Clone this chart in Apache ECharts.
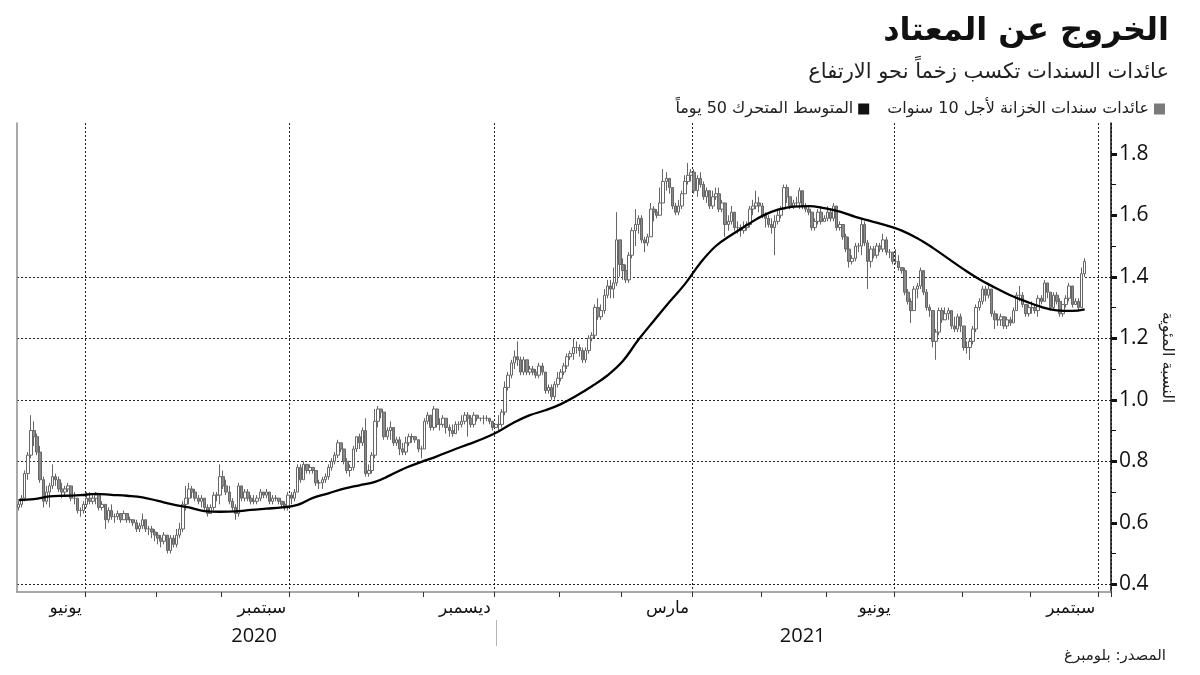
<!DOCTYPE html>
<html><head><meta charset="utf-8">
<script src="https://cdn.jsdelivr.net/npm/echarts@6/dist/echarts.min.js"></script>
<style>html,body{margin:0;padding:0;background:#fff}#c{width:1200px;height:675px}</style>
</head><body><div id="c"></div>
<script>
// ---------- texts ----------
const titleText = 'الخروج عن المعتاد';
const subtitleText = 'عائدات السندات تكسب زخماً نحو الارتفاع';
const seriesNames = ['عائدات سندات الخزانة لأجل 10 سنوات', 'المتوسط المتحرك 50 يوماً'];
const yAxisName = 'النسبة المئوية';
const sourceText = 'المصدر: بلومبرغ';
const monthNames = ['يناير','فبراير','مارس','أبريل','مايو','يونيو','يوليو','أغسطس','سبتمبر','أكتوبر','نوفمبر','ديسمبر'];

// ---------- axis ticks ----------
const yTickLabels = [0.4, 0.6, 0.8, 1.0, 1.2, 1.4, 1.6, 1.8];
const yMinorTicks = [0.5, 0.7, 0.9, 1.1, 1.3, 1.5, 1.7];
const yGridValues = [0.4, 0.8, 1.0, 1.2, 1.4];
const yMin = 0.375, yMax = 1.9;

// ---------- categories: trading weekdays ----------
const firstDay = '2020-06-01';
const lastDay = '2021-10-06';

// ---------- daily 10y yield [open, close, low, high] ----------
const yields2020 = [
// Jun
[.65,.66,.64,.67],[.66,.68,.65,.69],[.68,.76,.67,.77],[.76,.82,.74,.83],[.82,.90,.81,.95],
[.90,.88,.85,.93],[.88,.83,.82,.89],[.83,.74,.73,.85],[.74,.67,.65,.75],[.67,.70,.66,.72],
[.70,.72,.65,.73],[.72,.75,.71,.79],[.75,.74,.72,.76],[.74,.71,.70,.75],[.71,.70,.68,.73],
[.70,.71,.69,.72],[.71,.72,.70,.73],[.72,.68,.67,.72],[.68,.68,.66,.70],[.68,.64,.63,.68],
[.64,.64,.62,.65],[.64,.66,.63,.67],
// Jul
[.66,.68,.65,.70],[.68,.67,.66,.70],[.67,.68,.66,.69],[.68,.69,.66,.70],[.69,.65,.64,.69],
[.65,.66,.64,.67],[.66,.61,.58,.66],[.61,.64,.60,.65],[.64,.62,.61,.66],[.62,.62,.60,.63],
[.62,.63,.61,.64],[.63,.61,.60,.63],[.61,.63,.61,.64],[.63,.61,.60,.63],[.61,.61,.60,.62],
[.61,.60,.59,.61],[.60,.58,.57,.61],[.58,.59,.57,.60],[.59,.61,.58,.63],[.61,.58,.57,.61],
[.58,.58,.56,.59],[.58,.57,.55,.59],[.57,.56,.54,.58],[.56,.55,.53,.57],[.55,.54,.52,.56],
// Aug
[.54,.56,.53,.57],[.56,.51,.50,.56],[.51,.55,.50,.56],[.55,.53,.52,.56],[.53,.56,.52,.58],
[.56,.58,.55,.60],[.58,.66,.57,.67],[.66,.68,.64,.72],[.68,.71,.66,.73],[.71,.70,.68,.72],
[.70,.68,.67,.71],[.68,.67,.66,.69],[.67,.68,.65,.69],[.68,.65,.64,.68],[.65,.63,.62,.66],
[.63,.65,.63,.66],[.65,.69,.64,.70],[.69,.69,.67,.70],[.69,.75,.66,.79],[.75,.72,.71,.77],
[.72,.70,.69,.74],
// Sep
[.70,.67,.66,.72],[.67,.65,.64,.68],[.65,.63,.61,.66],[.63,.72,.62,.73],
[.72,.68,.67,.72],[.68,.70,.67,.71],[.70,.68,.67,.71],[.68,.67,.66,.69],[.67,.67,.66,.69],
[.67,.68,.66,.69],[.68,.70,.67,.71],[.70,.69,.68,.70],[.69,.70,.68,.71],[.70,.67,.66,.70],
[.67,.68,.66,.69],[.68,.68,.67,.69],[.68,.67,.66,.68],[.67,.66,.65,.67],
[.66,.65,.64,.67],[.65,.69,.64,.70],
// Oct
[.69,.68,.66,.70],[.68,.70,.67,.71],[.70,.78,.70,.79],[.78,.74,.73,.79],[.74,.79,.74,.80],
[.79,.77,.76,.79],[.77,.78,.76,.79],[.78,.77,.76,.78],[.77,.73,.72,.77],[.73,.73,.71,.74],
[.73,.74,.71,.75],[.74,.75,.73,.76],[.75,.78,.74,.79],[.78,.80,.77,.81],[.80,.82,.79,.83],
[.82,.86,.81,.87],[.86,.84,.83,.86],[.84,.80,.79,.84],[.80,.77,.76,.81],[.77,.78,.75,.79],
[.78,.84,.77,.85],[.84,.88,.83,.88],
// Nov
[.88,.86,.84,.89],[.86,.90,.85,.91],[.90,.76,.75,.94],[.76,.77,.75,.79],[.77,.82,.76,.83],
[.82,.93,.81,.97],[.93,.97,.91,.98],[.97,.96,.94,.97],[.96,.88,.87,.96],[.88,.90,.87,.91],
[.90,.91,.87,.93],[.91,.86,.85,.91],[.86,.87,.85,.88],[.87,.84,.82,.88],[.84,.83,.82,.86],
[.83,.86,.82,.88],[.86,.88,.85,.89],[.88,.88,.86,.89],[.88,.87,.86,.88],[.87,.84,.83,.87],
[.84,.84,.81,.85],
// Dec
[.84,.93,.84,.94],[.93,.95,.92,.96],[.95,.91,.90,.95],[.91,.97,.90,.98],[.97,.92,.91,.97],
[.92,.92,.90,.94],[.92,.94,.91,.95],[.94,.91,.89,.94],[.91,.90,.88,.92],[.90,.89,.88,.92],
[.89,.92,.89,.93],[.92,.92,.90,.93],[.92,.93,.91,.95],[.93,.95,.92,.96],[.95,.94,.88,.96],
[.94,.92,.91,.95],[.92,.95,.91,.96],[.95,.94,.93,.95],[.94,.94,.93,.94],[.94,.94,.92,.95],
[.94,.94,.93,.95],[.94,.93,.92,.94],[.93,.91,.90,.93]
];
const yields2021 = [
// Jan
[.91,.92,.91,.92],[.92,.92,.90,.95],[.92,.96,.91,.97],[.96,1.04,.95,1.06],[1.04,1.08,1.03,1.09],
[1.08,1.12,1.07,1.13],[1.12,1.14,1.10,1.16],[1.14,1.13,1.11,1.19],[1.13,1.09,1.08,1.14],[1.09,1.13,1.08,1.14],
[1.13,1.09,1.08,1.13],[1.09,1.10,1.08,1.11],[1.10,1.09,1.08,1.11],[1.09,1.08,1.07,1.10],[1.08,1.11,1.07,1.12],
[1.11,1.09,1.08,1.12],[1.09,1.03,1.02,1.09],[1.03,1.04,1.02,1.05],[1.04,1.01,1.00,1.05],[1.01,1.05,1.00,1.06],
[1.05,1.07,1.04,1.09],
// Feb
[1.07,1.09,1.06,1.10],[1.09,1.11,1.08,1.12],[1.11,1.14,1.10,1.15],[1.14,1.15,1.13,1.16],[1.15,1.17,1.13,1.20],
[1.17,1.17,1.15,1.19],[1.17,1.16,1.14,1.18],[1.16,1.13,1.12,1.17],[1.13,1.16,1.12,1.17],[1.16,1.20,1.15,1.21],
[1.20,1.21,1.19,1.22],[1.21,1.30,1.20,1.31],[1.30,1.27,1.26,1.33],[1.27,1.29,1.26,1.31],[1.29,1.34,1.28,1.36],
[1.34,1.37,1.33,1.39],[1.37,1.36,1.33,1.39],[1.36,1.38,1.33,1.43],[1.38,1.52,1.37,1.61],[1.52,1.44,1.40,1.52],
// Mar
[1.44,1.42,1.39,1.46],[1.42,1.39,1.38,1.44],[1.39,1.47,1.38,1.48],[1.47,1.55,1.46,1.56],[1.55,1.57,1.50,1.62],
[1.57,1.59,1.54,1.60],[1.59,1.52,1.51,1.60],[1.52,1.51,1.48,1.53],[1.51,1.53,1.50,1.54],[1.53,1.62,1.53,1.64],
[1.62,1.61,1.58,1.63],[1.61,1.60,1.59,1.62],[1.60,1.64,1.60,1.69],[1.64,1.71,1.64,1.75],[1.71,1.72,1.68,1.74],
[1.72,1.69,1.67,1.72],[1.69,1.63,1.62,1.69],[1.63,1.61,1.60,1.64],[1.61,1.63,1.60,1.65],[1.63,1.67,1.62,1.68],
[1.67,1.71,1.67,1.73],[1.71,1.73,1.70,1.77],[1.73,1.74,1.71,1.75],
// Apr
[1.74,1.68,1.67,1.75],[1.68,1.72,1.66,1.73],[1.72,1.70,1.69,1.74],[1.70,1.66,1.65,1.71],[1.66,1.68,1.64,1.69],
[1.68,1.63,1.62,1.68],[1.63,1.66,1.62,1.68],[1.66,1.67,1.65,1.69],[1.67,1.62,1.61,1.69],[1.62,1.64,1.61,1.65],
[1.64,1.57,1.53,1.64],[1.57,1.58,1.55,1.60],[1.58,1.61,1.57,1.63],[1.61,1.56,1.55,1.61],[1.56,1.56,1.54,1.58],
[1.56,1.55,1.53,1.57],[1.55,1.56,1.54,1.58],[1.56,1.57,1.55,1.58],[1.57,1.62,1.56,1.63],[1.62,1.63,1.60,1.65],
[1.63,1.64,1.62,1.68],[1.64,1.63,1.61,1.66],
// May
[1.63,1.60,1.59,1.64],[1.60,1.59,1.56,1.61],[1.59,1.57,1.56,1.60],[1.57,1.56,1.54,1.59],[1.56,1.58,1.47,1.60],
[1.58,1.60,1.57,1.62],[1.60,1.62,1.59,1.63],[1.62,1.69,1.62,1.70],[1.69,1.66,1.64,1.70],[1.66,1.63,1.62,1.66],
[1.63,1.64,1.62,1.65],[1.64,1.64,1.63,1.66],[1.64,1.68,1.62,1.69],[1.68,1.63,1.62,1.68],[1.63,1.62,1.61,1.64],
[1.62,1.61,1.60,1.63],[1.61,1.56,1.55,1.61],[1.56,1.58,1.55,1.59],[1.58,1.61,1.57,1.62],[1.61,1.58,1.57,1.63],
[1.58,1.59,1.58,1.60],
// Jun
[1.59,1.61,1.58,1.63],[1.61,1.59,1.58,1.62],[1.59,1.63,1.58,1.64],[1.63,1.56,1.55,1.63],[1.56,1.57,1.55,1.58],
[1.57,1.53,1.52,1.57],[1.53,1.49,1.48,1.54],[1.49,1.45,1.43,1.53],[1.45,1.46,1.44,1.47],[1.46,1.50,1.45,1.51],
[1.50,1.50,1.48,1.51],[1.50,1.57,1.47,1.59],[1.57,1.51,1.50,1.58],[1.51,1.45,1.36,1.52],[1.45,1.49,1.43,1.50],
[1.49,1.47,1.46,1.50],[1.47,1.50,1.46,1.51],[1.50,1.49,1.48,1.51],[1.49,1.52,1.48,1.54],[1.52,1.48,1.47,1.53],
[1.48,1.48,1.46,1.49],[1.48,1.45,1.44,1.48],
// Jul
[1.45,1.45,1.44,1.49],[1.45,1.43,1.42,1.47],[1.43,1.42,1.41,1.43],[1.42,1.35,1.34,1.43],[1.35,1.32,1.31,1.36],
[1.32,1.29,1.25,1.33],[1.29,1.36,1.29,1.37],[1.36,1.37,1.33,1.38],[1.37,1.42,1.36,1.43],[1.42,1.35,1.34,1.42],
[1.35,1.30,1.29,1.36],[1.30,1.29,1.27,1.31],[1.29,1.19,1.17,1.29],[1.19,1.22,1.13,1.23],[1.22,1.29,1.21,1.30],
[1.29,1.26,1.25,1.30],[1.26,1.28,1.26,1.30],[1.28,1.29,1.26,1.30],[1.29,1.24,1.23,1.29],[1.24,1.23,1.22,1.27],
[1.23,1.27,1.22,1.28],[1.27,1.24,1.22,1.28],
// Aug
[1.24,1.17,1.16,1.24],[1.17,1.17,1.15,1.19],[1.17,1.19,1.13,1.20],[1.19,1.23,1.18,1.24],[1.23,1.30,1.22,1.31],
[1.30,1.32,1.29,1.33],[1.32,1.36,1.31,1.37],[1.36,1.34,1.32,1.37],[1.34,1.36,1.33,1.38],[1.36,1.28,1.27,1.36],
[1.28,1.26,1.23,1.29],[1.26,1.26,1.24,1.28],[1.26,1.27,1.24,1.28],[1.27,1.24,1.23,1.27],[1.24,1.26,1.23,1.27],
[1.26,1.25,1.24,1.27],[1.25,1.29,1.25,1.30],[1.29,1.34,1.29,1.35],[1.34,1.34,1.32,1.37],[1.34,1.31,1.30,1.35],
[1.31,1.28,1.27,1.31],[1.28,1.30,1.27,1.31],
// Sep
[1.30,1.30,1.28,1.32],[1.30,1.29,1.28,1.31],[1.29,1.33,1.27,1.34],[1.33,1.32,1.31,1.34],[1.32,1.38,1.32,1.39],
[1.38,1.35,1.33,1.38],[1.35,1.30,1.29,1.35],[1.30,1.34,1.29,1.35],[1.34,1.32,1.31,1.35],[1.32,1.28,1.27,1.33],
[1.28,1.31,1.27,1.31],[1.31,1.33,1.30,1.34],[1.33,1.37,1.32,1.38],[1.37,1.31,1.30,1.37],[1.31,1.32,1.31,1.33],
[1.32,1.30,1.29,1.33],[1.30,1.41,1.30,1.43],[1.41,1.45,1.40,1.46]
];

// ---------- 50-day moving average, read weekly (every 5th trading day) ----------
const ma50Weekly = [
0.674,0.677,0.686,0.688,0.690,0.694,0.691,0.688,0.683,0.671,
0.659,0.650,0.638,0.636,0.637,0.642,0.646,0.650,0.658,0.681,
0.696,0.711,0.722,0.733,0.755,0.779,0.798,0.816,0.836,0.855,
0.874,0.898,0.927,0.950,0.966,0.986,1.013,1.044,1.079,1.126,
1.195,1.257,1.318,1.376,1.445,1.500,1.536,1.568,1.598,1.618,
1.628,1.630,1.623,1.612,1.595,1.581,1.567,1.550,1.525,1.494,
1.459,1.424,1.392,1.365,1.340,1.320,1.302,1.291,1.289,1.294
];

// ---------- build ----------
function weekdayList(a, b) {
  const out = [];
  const d = new Date(a + 'T00:00:00Z'), end = new Date(b + 'T00:00:00Z');
  while (d <= end) {
    const w = d.getUTCDay();
    if (w !== 0 && w !== 6) out.push(d.toISOString().slice(0, 10));
    d.setUTCDate(d.getUTCDate() + 1);
  }
  return out;
}
const dates = weekdayList(firstDay, lastDay);
const yields = yields2020.concat(yields2021);
const monthOf = s => +s.slice(5, 7) - 1;
const yearOf = s => s.slice(0, 4);
const isMonthStart = i => i > 0 && dates[i].slice(0, 7) !== dates[i - 1].slice(0, 7);
const isQuarterStart = i => isMonthStart(i) && monthOf(dates[i]) % 3 === 0;
const isYearStart = i => i > 0 && yearOf(dates[i]) !== yearOf(dates[i - 1]);
const yearStartIdx = dates.findIndex((d, i) => isYearStart(i));
const yearMid = [Math.floor((yearStartIdx - 1) / 2), Math.floor((yearStartIdx + dates.length - 1) / 2)];

const maData = dates.map(() => null);
ma50Weekly.forEach((v, k) => { maData[Math.min(k * 5, yields.length - 1)] = v; });

const AR = 'DejaVu Sans';
const NUM = 'Open Sans';

const chart = echarts.init(document.getElementById('c'), null, { renderer: 'canvas' });
chart.setOption({
  backgroundColor: '#ffffff',
  animation: false,
  title: [
    { text: titleText, right: 26, top: 11, textStyle: { fontFamily: AR, fontSize: 32, fontWeight: 'bold', color: '#111' } },
    { text: subtitleText, right: 26, top: 57, textStyle: { fontFamily: AR, fontSize: 21, fontWeight: 'normal', color: '#222' } },
    { text: sourceText, right: 29, top: 644, textStyle: { fontFamily: AR, fontSize: 15, fontWeight: 'normal', color: '#222' } }
  ],
  legend: {
    right: 30, top: 96, align: 'right', itemWidth: 11, itemHeight: 11, itemGap: 18,
    textStyle: { fontFamily: AR, fontSize: 16, color: '#222' },
    data: [
      { name: seriesNames[1], icon: 'rect', itemStyle: { color: '#111', borderWidth: 0 } },
      { name: seriesNames[0], icon: 'rect', itemStyle: { color: '#7a7a7a', borderWidth: 0 } }
    ],
    selectedMode: false
  },
  grid: { left: 17, right: 89, top: 123, bottom: 83, containLabel: false, outerBoundsMode: 'none' },
  xAxis: [{
    type: 'category', data: dates, boundaryGap: true,
    axisLine: { show: true, lineStyle: { color: '#8c8c8c', width: 1.5 } },
    axisTick: { show: true, interval: (i) => isMonthStart(i), length: 5, lineStyle: { color: '#333', width: 1 } },
    axisLabel: {
      interval: (i) => isQuarterStart(i),
      formatter: (v) => monthNames[(monthOf(v) + 11) % 12],
      align: 'right', padding: [0, 5, 0, 0], margin: 8,
      fontFamily: AR, fontSize: 17, color: '#111'
    },
    splitLine: { show: true, interval: (i) => isQuarterStart(i), lineStyle: { type: [2, 2], color: '#222', width: 1 } }
  }, {
    type: 'category', data: dates, boundaryGap: true, position: 'bottom', offset: 28,
    axisLine: { show: false },
    axisTick: { show: true, alignWithLabel: true, interval: (i) => isYearStart(i), length: 26, lineStyle: { color: '#b5b5b5', width: 1 } },
    axisLabel: { interval: (i) => yearMid.includes(i), formatter: (v) => yearOf(v), margin: 6, fontFamily: NUM, fontSize: 20, color: '#111' },
    splitLine: { show: false }
  }],
  yAxis: [{
    type: 'value', position: 'right', min: yMin, max: yMax,
    axisLine: { show: true, lineStyle: { color: '#111', width: 1.5 } },
    axisTick: { show: true, customValues: yTickLabels, length: 6, lineStyle: { color: '#111', width: 3 } },
    axisLabel: { customValues: yTickLabels, formatter: (v) => v.toFixed(1), margin: 8, fontFamily: NUM, fontSize: 21, color: '#111' },
    splitLine: { show: false },
    name: yAxisName, nameLocation: 'middle', nameRotate: -90, nameGap: 47,
    nameTextStyle: { fontFamily: AR, fontSize: 16, color: '#222' }
  }, {
    type: 'value', position: 'right', min: yMin, max: yMax,
    axisLine: { show: false },
    axisTick: { show: true, customValues: yMinorTicks, length: 5, lineStyle: { color: '#111', width: 1 } },
    axisLabel: { show: false },
    splitLine: { show: false }
  }, {
    type: 'value', position: 'left', min: yMin, max: yMax,
    axisLine: { show: true, lineStyle: { color: '#8c8c8c', width: 1.5 } },
    axisTick: { show: false, customValues: yGridValues },
    axisLabel: { show: false, customValues: yGridValues },
    splitLine: { show: true, lineStyle: { type: [2, 2], color: '#222', width: 1 } }
  }],
  series: [{
    name: seriesNames[0], type: 'candlestick', xAxisIndex: 0, yAxisIndex: 0,
    data: yields, barWidth: 3,
    itemStyle: { color: '#ffffff', color0: '#8a8a8a', borderColor: '#666666', borderColor0: '#666666', borderColorDoji: '#666666', borderWidth: 1 },
    emphasis: { disabled: true }
  }, {
    name: seriesNames[1], type: 'line', xAxisIndex: 0, yAxisIndex: 0,
    data: maData, connectNulls: true, showSymbol: false, smooth: 0.4, z: 5,
    lineStyle: { color: '#000', width: 2.3 }, itemStyle: { color: '#000' },
    emphasis: { disabled: true }
  }]
});
</script>
</body></html>
